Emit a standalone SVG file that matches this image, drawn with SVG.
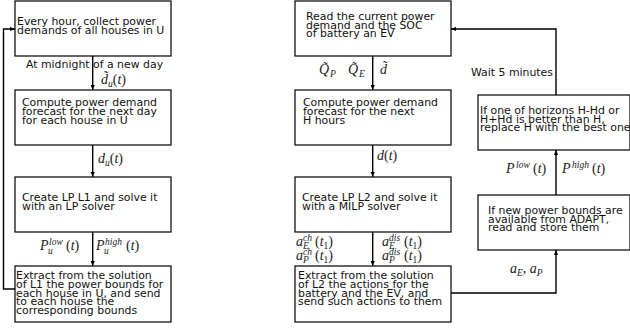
<svg xmlns="http://www.w3.org/2000/svg" width="630" height="330" viewBox="0 0 630 330">
<style>
.box{fill:#fff;stroke:#000;stroke-width:1.2}
.t{font-family:"DejaVu Sans",sans-serif;font-size:10.9px;fill:#111}
.m{font-family:"Liberation Serif",serif;font-style:italic;font-size:14px;fill:#222}
.s{font-size:9.5px}
.up{font-style:normal}
.c{fill:none;stroke:#000;stroke-width:1.4}
</style>
<defs>
<marker id="ah" viewBox="0 0 6 6" refX="6" refY="3" markerWidth="5" markerHeight="5" markerUnits="userSpaceOnUse" orient="auto">
<path d="M0,0.5 L6,3 L0,5.5 z" fill="#000"/>
</marker>
</defs>
<rect width="630" height="330" fill="#fff"/>
<g id="connectors">
<line class="c" x1="92.7" y1="56" x2="92.7" y2="90" marker-end="url(#ah)"/>
<line class="c" x1="92.7" y1="145" x2="92.7" y2="177" marker-end="url(#ah)"/>
<line class="c" x1="92.7" y1="232" x2="92.7" y2="266" marker-end="url(#ah)"/>
<polyline class="c" points="15,289 3.5,289 3.5,29 15,29" marker-end="url(#ah)"/>
<line class="c" x1="372.7" y1="56" x2="372.7" y2="90" marker-end="url(#ah)"/>
<line class="c" x1="372.7" y1="145" x2="372.7" y2="177" marker-end="url(#ah)"/>
<line class="c" x1="372.7" y1="232" x2="372.7" y2="266" marker-end="url(#ah)"/>
<polyline class="c" points="451,293 556,293 556,250" marker-end="url(#ah)"/>
<line class="c" x1="556" y1="195" x2="556" y2="150" marker-end="url(#ah)"/>
<polyline class="c" points="556,95 556,29 451,29" marker-end="url(#ah)"/>
</g>
<g id="n1">
<rect class="box" x="15" y="1" width="156" height="55"/>
<text class="t" x="17" y="25">Every hour, collect power</text>
<text class="t" x="17" y="34">demands of all houses in U</text>
</g>
<g id="n2">
<rect class="box" x="15" y="90" width="156" height="55"/>
<text class="t" x="22" y="106">Compute power demand</text>
<text class="t" x="22" y="115">forecast for the next day</text>
<text class="t" x="22" y="123.5">for each house in U</text>
</g>
<g id="n3">
<rect class="box" x="15" y="177" width="156" height="55"/>
<text class="t" x="22" y="201">Create LP L1 and solve it</text>
<text class="t" x="22" y="210">with an LP solver</text>
</g>
<g id="n4">
<rect class="box" x="15" y="266" width="156" height="56"/>
<text class="t" x="16" y="279">Extract from the solution</text>
<text class="t" x="16" y="288">of L1 the power bounds for</text>
<text class="t" x="16" y="296.5">each house in U, and send</text>
<text class="t" x="16" y="305">to each house the</text>
<text class="t" x="16" y="313.5">corresponding bounds</text>
</g>
<g id="m1">
<rect class="box" x="295" y="1" width="156" height="55"/>
<text class="t" x="306" y="20">Read the current power</text>
<text class="t" x="306" y="28.5">demand and the SOC</text>
<text class="t" x="306" y="37">of battery an EV</text>
</g>
<g id="m2">
<rect class="box" x="295" y="90" width="156" height="55"/>
<text class="t" x="303" y="106">Compute power demand</text>
<text class="t" x="303" y="115">forecast for the next</text>
<text class="t" x="303" y="123.5">H hours</text>
</g>
<g id="m3">
<rect class="box" x="295" y="177" width="156" height="55"/>
<text class="t" x="302" y="201">Create LP L2 and solve it</text>
<text class="t" x="302" y="210">with a MILP solver</text>
</g>
<g id="m4">
<rect class="box" x="295" y="266" width="156" height="56"/>
<text class="t" x="298" y="279">Extract from the solution</text>
<text class="t" x="298" y="288">of L2 the actions for the</text>
<text class="t" x="298" y="296.5">battery and the EV, and</text>
<text class="t" x="298" y="305">send such actions to them</text>
</g>
<g id="r1">
<rect class="box" x="478" y="95" width="152" height="55"/>
<text class="t" x="480" y="114">If one of horizons H-Hd or</text>
<text class="t" x="480" y="122.5">H+Hd is better than H,</text>
<text class="t" x="480" y="131">replace H with the best one</text>
</g>
<g id="r2">
<rect class="box" x="478" y="195" width="152" height="55"/>
<text class="t" x="488" y="214">If new power bounds are</text>
<text class="t" x="488" y="222.5">available from ADAPT,</text>
<text class="t" x="488" y="231">read and store them</text>
</g>
<g id="labels">
<text class="t" x="26" y="68">At midnight of a new day</text>
<text class="t" x="471" y="76">Wait 5 minutes</text>
<text class="m" x="101" y="84">d̃<tspan class="s" x="108" dy="3">u</tspan><tspan class="up" dy="-3">(</tspan>t<tspan class="up">)</tspan></text>
<text class="m" x="98" y="163">d<tspan class="s" dy="3">u</tspan><tspan class="up" dy="-3">(</tspan>t<tspan class="up">)</tspan></text>
<text class="m" x="40" y="250">P<tspan class="s" x="49" dy="-5">low</tspan><tspan class="s" x="48" dy="8.5">u</tspan><tspan class="up" x="66" dy="-3.5">(</tspan>t<tspan class="up">)</tspan></text>
<text class="m" x="96" y="250">P<tspan class="s" x="105" dy="-5">high</tspan><tspan class="s" x="104" dy="8.5">u</tspan><tspan class="up" x="126" dy="-3.5">(</tspan>t<tspan class="up">)</tspan></text>
<text class="m" x="319" y="74">Q̃<tspan class="s" x="330" dy="3">P</tspan><tspan x="348" dy="-3">Q̃</tspan><tspan class="s" x="359" dy="3">E</tspan></text>
<text class="m" x="380" y="74">d̃</text>
<text class="m" x="377" y="160">d<tspan class="up">(</tspan>t<tspan class="up">)</tspan></text>
<rect x="294" y="233" width="48" height="30" fill="#fff"/>
<rect x="380" y="233" width="72" height="30" fill="#fff"/>
<text class="m" x="296" y="246">a<tspan class="s" x="303" dy="-5">ch</tspan><tspan class="s" x="303" dy="8">E</tspan><tspan class="up" x="315" dy="-3">(</tspan>t<tspan class="s up" dy="3">1</tspan><tspan class="up" dy="-3">)</tspan></text>
<text class="m" x="296" y="260">a<tspan class="s" x="303" dy="-5">ch</tspan><tspan class="s" x="303" dy="8">P</tspan><tspan class="up" x="315" dy="-3">(</tspan>t<tspan class="s up" dy="3">1</tspan><tspan class="up" dy="-3">)</tspan></text>
<text class="m" x="382" y="246">a<tspan class="s" x="389" dy="-5">dis</tspan><tspan class="s" x="389" dy="8">E</tspan><tspan class="up" x="404" dy="-3">(</tspan>t<tspan class="s up" dy="3">1</tspan><tspan class="up" dy="-3">)</tspan></text>
<text class="m" x="382" y="260">a<tspan class="s" x="389" dy="-5">dis</tspan><tspan class="s" x="389" dy="8">P</tspan><tspan class="up" x="404" dy="-3">(</tspan>t<tspan class="s up" dy="3">1</tspan><tspan class="up" dy="-3">)</tspan></text>
<text class="m" x="506" y="173">P<tspan class="s" x="516" dy="-5">low</tspan><tspan class="up" x="533" dy="5">(</tspan>t<tspan class="up">)</tspan></text>
<text class="m" x="562" y="173">P<tspan class="s" x="572" dy="-5">high</tspan><tspan class="up" x="592" dy="5">(</tspan>t<tspan class="up">)</tspan></text>
<text class="m" x="510" y="273">a<tspan class="s" dy="3">E</tspan><tspan class="up" dy="-3">, </tspan>a<tspan class="s" dy="3">P</tspan></text>
</g>
</svg>
